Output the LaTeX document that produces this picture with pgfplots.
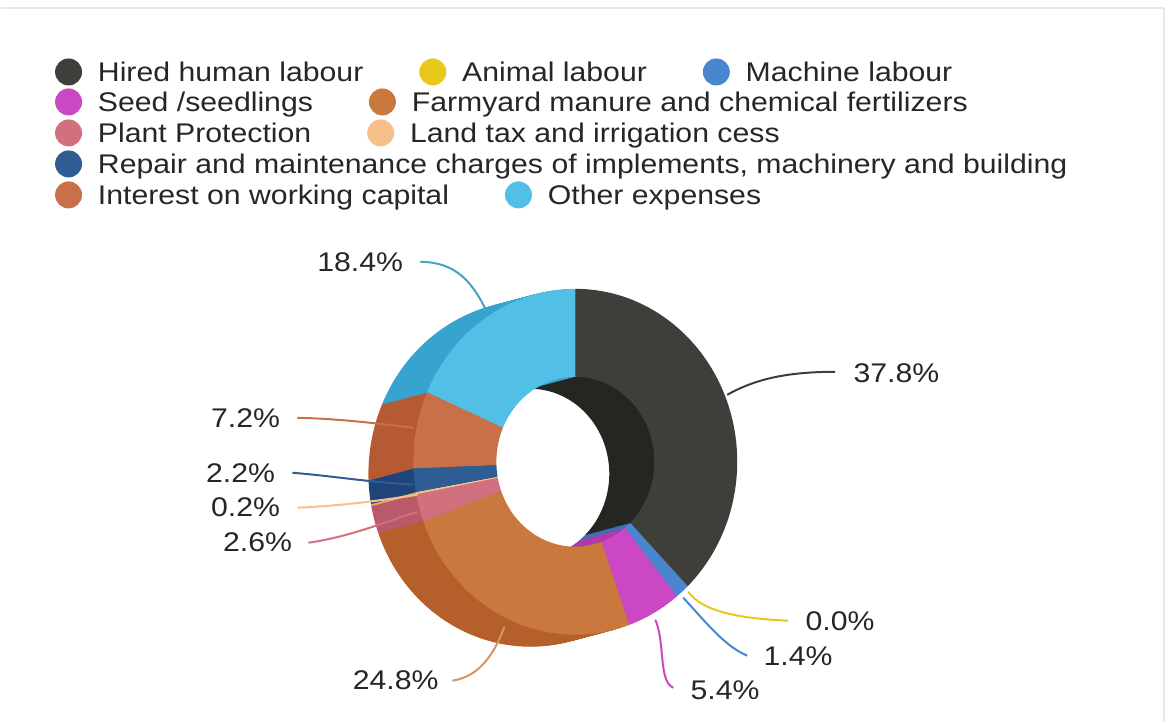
\documentclass[border=0pt]{standalone}
\usepackage{pgfplots}
\pgfplotsset{compat=1.18}
\usepackage{pgfplotstable}
\usetikzlibrary{calc}
\usepackage{fontspec}
\setmainfont{Liberation Sans}[FakeStretch=1.12]

% face / side colours, in the order of the table rows
\definecolor{face0}{HTML}{3E3E3A}\definecolor{side0}{HTML}{252521}
\definecolor{face1}{HTML}{E8C81A}\definecolor{side1}{HTML}{C9AC10}
\definecolor{face2}{HTML}{4A86CF}\definecolor{side2}{HTML}{3A70B5}
\definecolor{face3}{HTML}{CC47C4}\definecolor{side3}{HTML}{B03AA8}
\definecolor{face4}{HTML}{C9793E}\definecolor{side4}{HTML}{B5602A}
\definecolor{face5}{HTML}{D1707E}\definecolor{side5}{HTML}{B95A6A}
\definecolor{face6}{HTML}{F5C08A}\definecolor{side6}{HTML}{E0A56E}
\definecolor{face7}{HTML}{2E5D93}\definecolor{side7}{HTML}{1F447A}
\definecolor{face8}{HTML}{C8704A}\definecolor{side8}{HTML}{B65A34}
\definecolor{face9}{HTML}{52BFE6}\definecolor{side9}{HTML}{37A4D0}
\definecolor{txt}{HTML}{262626}

% cost shares (%), clockwise from 12 o'clock
\pgfplotstableread{
row pct
0 37.8
1 0.0
2 1.4
3 5.4
4 24.8
5 2.6
6 0.2
7 2.2
8 7.2
9 18.4
}\costshare
\pgfplotstablecreatecol[expr accum={\pgfmathaccuma+\thisrow{pct}}{0}]{cum}{\costshare}

% one copy of the ring, shifted by #1,#2 (axis units), colours #3<row>
\newcommand\donutlayer[3]{%
  \pgfmathsetmacro\ox{575+#1}%
  \pgfmathsetmacro\oy{260+#2}%
  \coordinate (O) at (axis cs:\ox,\oy);
  \foreach \i in {0,...,9}{
    \pgfplotstablegetelem{\i}{pct}\of\costshare \let\pv\pgfplotsretval
    \pgfplotstablegetelem{\i}{cum}\of\costshare \let\cm\pgfplotsretval
    \pgfmathsetmacro\angA{90-3.6*(\cm-\pv)}
    \pgfmathsetmacro\angB{90-3.6*\cm}
    \fill[fill=#3\i] ($(O)+(\angA:81pt and 86.5pt)$)
      arc[start angle=\angA,end angle=\angB,x radius=81pt,y radius=86.5pt]
      -- ($(O)+(\angB:39.5pt and 42.5pt)$)
      arc[start angle=\angB,end angle=\angA,x radius=39.5pt,y radius=42.5pt] -- cycle;
  }}

\begin{document}
\begin{tikzpicture}[lab/.style={inner sep=0pt,text=txt,font=\fontsize{13.5}{16}\selectfont}]
\begin{axis}[
  x=0.5pt, y=0.5pt,
  xmin=0, xmax=1170, ymin=0, ymax=722,
  hide axis, clip=false,
]
\pgfplotsextra{
  \path (axis cs:0,0) rectangle (axis cs:1170,722);
  \draw[gray!18, line width=0.6pt] (axis cs:0,714) -- (axis cs:1164,714) -- (axis cs:1164,0);
  % extruded side, back to front
  \foreach \k in {30,...,1}{
    \pgfmathsetmacro\sx{-45*\k/30}
    \pgfmathsetmacro\sy{-12*\k/30}
    \donutlayer{\sx}{\sy}{side}
  }
  % top face
  \donutlayer{0}{0}{face}

  % leader lines
  \draw[face9!85!black, line width=1pt] (axis cs:420,460) .. controls (axis cs:455,460) and (axis cs:472,440) .. (axis cs:486,411);
  \draw[face0, line width=1pt] (axis cs:727,327) .. controls (axis cs:752,341) and (axis cs:782,350) .. (axis cs:835,350);
  \draw[face8, line width=1pt] (axis cs:297,304) .. controls (axis cs:340,303) and (axis cs:380,298) .. (axis cs:413,294);
  \draw[face7, line width=1pt] (axis cs:292,249) .. controls (axis cs:330,246) and (axis cs:365,240) .. (axis cs:413,237);
  \draw[face6, line width=1pt] (axis cs:297,214) .. controls (axis cs:340,216) and (axis cs:380,221) .. (axis cs:417,227);
  \draw[face5, line width=1pt] (axis cs:308,179) .. controls (axis cs:350,185) and (axis cs:385,200) .. (axis cs:417,210);
  \draw[face1, line width=1pt] (axis cs:688,130) .. controls (axis cs:702,110) and (axis cs:740,103) .. (axis cs:788,101);
  \draw[face2, line width=1pt] (axis cs:683,124) .. controls (axis cs:705,100) and (axis cs:725,75) .. (axis cs:747,66);
  \draw[face3, line width=1pt] (axis cs:655,102) .. controls (axis cs:665,80) and (axis cs:658,40) .. (axis cs:673,34);
  \draw[face4!80!white, line width=1pt] (axis cs:452,41) .. controls (axis cs:480,45) and (axis cs:495,70) .. (axis cs:504,95);

  % slice labels
  \node[lab,anchor=base east] at (axis cs:403,450) {18.4\%};
  \node[lab,anchor=base west] at (axis cs:853,339) {37.8\%};
  \node[lab,anchor=base east] at (axis cs:280,294) {7.2\%};
  \node[lab,anchor=base east] at (axis cs:275,239) {2.2\%};
  \node[lab,anchor=base east] at (axis cs:280,205) {0.2\%};
  \node[lab,anchor=base east] at (axis cs:292,170) {2.6\%};
  \node[lab,anchor=base west] at (axis cs:805,91) {0.0\%};
  \node[lab,anchor=base west] at (axis cs:763,56) {1.4\%};
  \node[lab,anchor=base west] at (axis cs:690,22) {5.4\%};
  \node[lab,anchor=base west] at (axis cs:352,32) {24.8\%};

  % legend
  \fill[face0] (axis cs:68,650) circle[radius=6.75pt];
  \node[lab,anchor=base west] (A) at (axis cs:97,640.5) {Hired human labour};
  \fill[face1] ([shift={(34.5pt,4.75pt)}]A.base east) circle[radius=6.75pt];
  \node[lab,anchor=base west] (B) at ([xshift=49pt]A.base east) {Animal labour};
  \fill[face2] ([shift={(34.5pt,4.75pt)}]B.base east) circle[radius=6.75pt];
  \node[lab,anchor=base west] at ([xshift=49pt]B.base east) {Machine labour};

  \fill[face3] (axis cs:68,620) circle[radius=6.75pt];
  \node[lab,anchor=base west] (C) at (axis cs:97,610.5) {Seed /seedlings};
  \fill[face4] ([shift={(34.5pt,4.75pt)}]C.base east) circle[radius=6.75pt];
  \node[lab,anchor=base west] at ([xshift=49pt]C.base east) {Farmyard manure and chemical fertilizers};

  \fill[face5] (axis cs:68,589) circle[radius=6.75pt];
  \node[lab,anchor=base west] (D) at (axis cs:97,579.5) {Plant Protection};
  \fill[face6] ([shift={(34.5pt,4.75pt)}]D.base east) circle[radius=6.75pt];
  \node[lab,anchor=base west] at ([xshift=49pt]D.base east) {Land tax and irrigation cess};

  \fill[face7] (axis cs:68,558) circle[radius=6.75pt];
  \node[lab,anchor=base west] at (axis cs:97,548.5) {Repair and maintenance charges of implements, machinery and building};

  \fill[face8] (axis cs:68,527) circle[radius=6.75pt];
  \node[lab,anchor=base west] (E) at (axis cs:97,517.5) {Interest on working capital};
  \fill[face9] ([shift={(34.5pt,4.75pt)}]E.base east) circle[radius=6.75pt];
  \node[lab,anchor=base west] at ([xshift=49pt]E.base east) {Other expenses};
}
\end{axis}
\end{tikzpicture}
\end{document}
